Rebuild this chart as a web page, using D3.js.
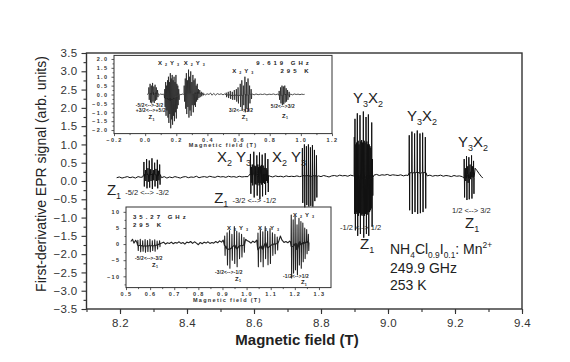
<!DOCTYPE html>
<html>
<head>
<meta charset="utf-8">
<script src="https://cdn.jsdelivr.net/npm/d3@7"></script>
<style>
    body { margin: 0; background: #fff; }
    svg { font-family: Arial, "Liberation Sans", sans-serif; }
</style>
</head>
<body>
<svg id="chart" width="570" height="362"></svg>
<script>
// tick labels
var mainXTicks = [8.2, 8.4, 8.6, 8.8, 9.0, 9.2, 9.4];
var mainYTicks = [-3.5, -3.0, -2.5, -2.0, -1.5, -1.0, -0.5, 0.0, 0.5, 1.0, 1.5, 2.0, 2.5, 3.0, 3.5];
var topXTicks = [-0.2, 0.0, 0.2, 0.4, 0.6, 0.8, 1.0, 1.2];
var topYTicks = [-2.0, -1.5, -1.0, -0.5, 0.0, 0.5, 1.0, 1.5, 2.0];
var lowXTicks = [0.5, 0.6, 0.7, 0.8, 0.9, 1.0, 1.1, 1.2, 1.3];
var lowYTicks = [-10, -5, 0, 5, 10];

// 249.9 GHz spectrum: baseline [field, signal] and hyperfine lines [field, up, down]
var mainBaseline = [
    [8.190,0.09],[8.198,0.11],[8.206,0.08],[8.214,0.10],[8.222,0.12],[8.230,0.09],[8.238,0.11],[8.246,0.08],[8.254,0.12],[8.262,0.10],[8.268,0.11],
    [8.324,0.09],[8.332,0.12],[8.340,0.08],[8.348,0.11],[8.356,0.09],[8.364,0.12],[8.372,0.10],[8.380,0.08],[8.388,0.11],[8.396,0.12],[8.404,0.09],
    [8.412,0.11],[8.420,0.10],[8.428,0.13],[8.436,0.09],[8.444,0.11],[8.452,0.12],[8.460,0.10],[8.468,0.13],[8.476,0.11],[8.484,0.10],[8.492,0.13],
    [8.500,0.11],[8.508,0.12],[8.516,0.10],[8.524,0.13],[8.532,0.11],[8.540,0.12],[8.548,0.10],[8.556,0.13],[8.564,0.11],[8.572,0.12],[8.582,0.12],
    [8.648,0.13],[8.656,0.11],[8.664,0.14],[8.672,0.12],[8.680,0.13],[8.688,0.11],[8.696,0.14],[8.704,0.12],[8.712,0.13],[8.720,0.12],[8.728,0.14],
    [8.736,0.12],[8.742,0.13],
    [8.792,0.14],[8.800,0.12],[8.808,0.15],[8.816,0.13],[8.824,0.11],[8.832,0.14],[8.840,0.15],[8.848,0.13],[8.856,0.16],[8.864,0.14],[8.872,0.15],
    [8.880,0.13],[8.888,0.16],[8.897,0.14],
    [8.958,0.16],[8.966,0.18],[8.974,0.15],[8.982,0.17],[8.990,0.16],[8.998,0.18],[9.006,0.15],[9.014,0.17],[9.022,0.16],[9.030,0.15],[9.038,0.17],
    [9.046,0.14],[9.054,0.16],[9.060,0.15],
    [9.117,0.14],[9.125,0.16],[9.133,0.13],[9.141,0.15],[9.149,0.14],[9.157,0.16],[9.165,0.13],[9.173,0.15],[9.181,0.14],[9.189,0.12],[9.197,0.15],
    [9.205,0.13],[9.213,0.14],[9.222,0.12],
    [9.260,0.35],[9.266,0.28],[9.272,0.20],[9.278,0.13],[9.283,0.08]
];
var mainLines = [
    [8.272,0.52,-0.15],[8.2765,0.30,0.00],[8.280,0.60,-0.20],[8.284,0.35,-0.02],[8.288,0.56,-0.18],[8.292,0.32,0.00],[8.296,0.62,-0.22],
    [8.300,0.30,0.02],[8.304,0.50,-0.15],[8.308,0.33,0.00],[8.312,0.58,-0.20],[8.3155,0.28,0.02],[8.319,0.45,-0.10],
    [8.590,0.74,-0.35],[8.593,0.38,-0.05],[8.5955,0.45,-0.12],[8.600,0.80,-0.45],[8.603,0.42,-0.08],[8.6055,0.40,-0.10],[8.609,0.70,-0.40],
    [8.612,0.45,-0.05],[8.6145,0.38,-0.12],[8.617,0.78,-0.50],[8.620,0.40,-0.06],[8.6225,0.44,-0.10],[8.625,0.72,-0.42],[8.628,0.42,-0.05],
    [8.631,0.36,-0.08],[8.634,0.76,-0.38],[8.637,0.35,0.00],[8.6395,0.30,-0.05],[8.642,0.60,-0.30],
    [8.745,0.90,-0.60],[8.751,1.00,-0.72],[8.757,0.95,-0.66],[8.763,1.00,-0.70],[8.769,0.92,-0.68],[8.775,0.98,-0.70],[8.781,0.85,-0.55],[8.787,0.70,-0.45],
    [8.900,1.20,-0.90],[8.902,1.70,-1.35],[8.9045,1.00,-0.85],[8.9065,1.05,-0.90],[8.909,1.85,-1.50],[8.9115,1.10,-0.95],[8.914,1.00,-0.88],
    [8.917,1.80,-1.45],[8.9195,1.08,-0.92],[8.922,1.12,-0.95],[8.9245,1.05,-0.90],[8.927,1.90,-1.55],[8.9295,1.10,-0.95],[8.932,1.05,-0.90],
    [8.935,1.75,-1.45],[8.9375,1.08,-0.92],[8.9395,1.00,-0.85],[8.942,1.82,-1.50],[8.9445,1.00,-0.85],[8.947,0.95,-0.80],[8.9495,0.90,-0.75],
    [8.952,1.60,-1.25],[8.954,0.60,-0.40],
    [9.064,1.25,-0.80],[9.072,1.35,-0.90],[9.080,1.30,-0.85],[9.088,1.38,-0.90],[9.096,1.30,-0.88],[9.104,1.32,-0.85],[9.112,1.20,-0.75],
    [9.228,0.60,-0.45],[9.2315,0.35,0.00],[9.235,0.68,-0.52],[9.2385,0.40,-0.05],[9.242,0.65,-0.50],[9.2455,0.45,0.05],[9.250,0.70,-0.48],
    [9.253,0.40,0.10],[9.256,0.55,-0.35]
];

// 9.619 GHz inset
var topBaseline = [
    [0.012,0.00],[0.018,0.03],[0.085,0.02],[0.092,-0.02],[0.100,0.03],[0.108,0.00],[0.116,0.02],[0.122,-0.01],
    [0.222,0.02],[0.230,-0.02],[0.238,0.03],[0.246,0.00],
    [0.378,0.03],[0.388,-0.02],[0.398,0.04],[0.410,0.00],[0.420,0.08],[0.430,-0.04],[0.440,0.06],[0.452,-0.03],[0.464,0.05],[0.476,0.00],
    [0.488,0.04],[0.500,-0.02],[0.510,0.03],[0.516,0.00],
    [0.690,0.02],[0.700,-0.02],[0.712,0.03],[0.726,-0.01],[0.740,0.02],[0.754,0.00],[0.768,0.03],[0.782,-0.02],[0.796,0.02],[0.810,0.00],
    [0.824,0.03],[0.838,-0.01],[0.850,0.02],[0.856,0.00],
    [0.936,0.02],[0.946,-0.02],[0.958,0.03],[0.970,0.00],[0.982,0.02],[0.994,-0.01],[1.006,0.02],[1.016,0.00],[1.024,0.01]
];
var topLines = [
    [0.025,0.40,-0.30],[0.033,0.60,-0.45],[0.041,0.50,-0.50],[0.049,0.65,-0.40],[0.057,0.45,-0.48],[0.065,0.55,-0.35],[0.073,0.40,-0.30],[0.081,0.25,-0.15],
    [0.127,0.30,-0.70],[0.133,0.70,-1.20],[0.139,0.50,-0.90],[0.145,0.80,-1.30],[0.151,1.00,-1.60],[0.157,0.70,-1.10],[0.163,1.20,-1.90],
    [0.169,0.90,-1.40],[0.175,1.10,-1.70],[0.181,0.80,-1.20],[0.187,1.00,-1.50],[0.193,0.70,-1.00],[0.199,1.10,-1.35],[0.205,0.60,-0.80],
    [0.211,0.50,-0.60],[0.217,0.30,-0.30],
    [0.252,0.50,-0.40],[0.259,0.90,-0.80],[0.266,1.20,-1.10],[0.273,0.80,-0.70],[0.280,1.40,-1.30],[0.287,1.00,-0.90],[0.294,1.30,-1.20],
    [0.301,0.70,-0.60],[0.308,1.10,-1.00],[0.315,0.80,-0.60],[0.322,0.90,-0.70],[0.329,0.50,-0.40],[0.336,0.60,-0.30],[0.344,0.30,-0.20],
    [0.352,0.25,-0.15],[0.362,0.15,-0.10],[0.372,0.10,-0.05],
    [0.522,0.10,-0.15],[0.535,0.15,-0.20],[0.548,0.20,-0.25],[0.561,0.15,-0.30],[0.574,0.25,-0.30],[0.587,0.30,-0.40],[0.598,0.40,-0.50],
    [0.612,0.60,-0.70],[0.622,0.80,-0.90],[0.632,0.50,-0.60],[0.642,1.00,-1.00],[0.652,0.70,-0.80],[0.662,0.90,-0.95],[0.672,0.50,-0.50],
    [0.682,0.30,-0.25],
    [0.862,0.20,-0.30],[0.871,0.40,-0.50],[0.880,0.50,-0.60],[0.889,0.45,-0.55],[0.898,0.50,-0.45],[0.907,0.35,-0.40],[0.916,0.25,-0.30],
    [0.926,0.15,-0.15]
];

// 35.27 GHz inset
var lowBaseline = [
    [0.520,0.8],[0.527,1.5],[0.533,0.3],[0.540,1.2],[0.545,0.5],
    [0.648,0.3],[0.656,0.6],[0.664,0.0],[0.672,0.4],[0.680,0.2],[0.688,0.6],[0.696,0.1],[0.704,0.5],[0.712,0.3],[0.720,0.7],[0.728,0.2],
    [0.736,0.5],[0.744,0.0],[0.752,0.6],[0.760,0.4],[0.768,0.8],[0.776,0.2],[0.784,0.7],[0.792,0.3],[0.800,-0.2],[0.808,0.5],[0.816,0.1],
    [0.824,0.6],[0.832,0.3],[0.840,0.7],[0.848,0.2],[0.856,0.5],[0.864,0.3],[0.872,0.8],[0.880,0.4],[0.888,1.0],[0.896,0.6],[0.903,1.2],
    [0.996,1.5],[1.003,1.0],[1.010,0.8],[1.018,0.3],[1.026,0.9],[1.034,0.5],[1.042,1.2],
    [1.134,1.0],[1.140,2.5],[1.147,1.2],[1.155,0.5],[1.163,0.8],[1.171,0.4],[1.178,0.9],[1.182,0.6]
];
var lowLines = [
    [0.550,1.2,-2.0],[0.560,1.5,-2.4],[0.570,1.0,-2.2],[0.580,1.4,-2.5],[0.590,1.1,-2.3],[0.600,1.5,-2.4],[0.610,1.0,-2.0],[0.620,1.3,-2.2],
    [0.630,0.9,-1.5],[0.640,1.0,-0.8],
    [0.910,2.5,-3.5],[0.920,3.5,-6.5],[0.930,4.2,-7.5],[0.940,3.0,-5.0],[0.950,5.4,-6.0],[0.960,4.0,-7.0],[0.970,3.5,-4.5],[0.980,3.0,-4.0],
    [0.990,2.0,-2.5],
    [1.048,3.4,-7.0],[1.058,4.4,-5.5],[1.068,3.8,-7.0],[1.078,5.4,-4.5],[1.088,4.0,-6.4],[1.098,4.8,-6.0],[1.108,3.5,-3.5],[1.118,3.0,-3.0],
    [1.128,2.2,-1.8],
    [1.186,9.0,-10.5],[1.194,7.5,-9.0],[1.202,8.5,-8.0],[1.210,6.0,-9.5],[1.218,8.0,-6.5],[1.226,7.0,-7.5],[1.234,6.5,-5.5],[1.242,5.0,-4.5],
    [1.250,4.5,-3.0],[1.257,3.0,-2.0]
];

var svg = d3.select('#chart');

var x = d3.scaleLinear().domain([8.1, 9.4]).range([86.5, 522]);
var y = d3.scaleLinear().domain([-3.5, 3.5]).range([309, 53]);
var tx = d3.scaleLinear().domain([-0.2, 1.2]).range([114, 332]);
var ty = d3.scaleLinear().domain([-2.2, 2.2]).range([133.6, 55.4]);
var lx = d3.scaleLinear().domain([0.5, 1.35]).range([126, 331]);
var ly = d3.scaleLinear().domain([-13.5, 11.5]).range([287.6, 207]);

// every line: from its centre up to the peak, down to the trough, back to centre
function tracePoints(base, lines) {
    var pts = base.map(function(d) { return {b: d[0], s: d[1], dx: 0}; });
    lines.forEach(function(d) {
        var mid = (d[1] + d[2]) / 2;
        pts.push({b: d[0], s: mid, dx: -0.4});
        pts.push({b: d[0], s: d[1], dx: -0.2});
        pts.push({b: d[0], s: d[2], dx: 0.2});
        pts.push({b: d[0], s: mid, dx: 0.4});
    });
    pts.sort(function(a, b) { return (a.b - b.b) || (a.dx - b.dx); });
    return pts;
}

function drawTrace(xs, ys, pts, color, width) {
    var line = d3.line()
        .x(function(p) { return xs(p.b) + p.dx; })
        .y(function(p) { return ys(p.s); });
    svg.append('path')
        .datum(pts)
        .attr('d', line)
        .attr('fill', 'none')
        .attr('stroke', color)
        .attr('stroke-width', width)
        .attr('stroke-linejoin', 'round');
}

function axes(xs, ys, o) {
    var xr = xs.range(), yr = ys.range();
    var g = svg.append('g');
    g.append('rect')
        .attr('x', xr[0]).attr('y', yr[1])
        .attr('width', xr[1] - xr[0]).attr('height', yr[0] - yr[1])
        .attr('fill', 'none').attr('stroke', o.color).attr('stroke-width', o.stroke);

    g.append('g').attr('transform', 'translate(0,' + yr[0] + ')')
        .call(d3.axisBottom(xs).tickValues(o.xMinor).tickSize(o.minor).tickFormat(''));
    g.append('g').attr('transform', 'translate(0,' + yr[0] + ')')
        .call(d3.axisBottom(xs).tickValues(o.xTicks).tickSize(o.major).tickPadding(o.xPad).tickFormat(o.xFmt));
    g.append('g').attr('transform', 'translate(' + xr[0] + ',0)')
        .call(d3.axisLeft(ys).tickValues(o.yMinor).tickSize(o.minor).tickFormat(''));
    g.append('g').attr('transform', 'translate(' + xr[0] + ',0)')
        .call(d3.axisLeft(ys).tickValues(o.yTicks).tickSize(o.major).tickPadding(o.yPad).tickFormat(o.yFmt));

    g.selectAll('.domain').remove();
    g.selectAll('.tick line').attr('stroke', o.color).attr('stroke-width', o.stroke * 0.8);
    g.selectAll('g').attr('font-family', null).attr('font-size', null);
    g.selectAll('.tick text')
        .attr('fill', o.text)
        .attr('font-size', o.font)
        .attr('font-weight', o.weight)
        .style('letter-spacing', o.spacing + 'px');
    return g;
}

// text with sub/superscripts: parts are [text, kind, dx]
function richText(px, py, parts, size, o) {
    o = o || {};
    var t = svg.append('text')
        .attr('x', px).attr('y', py)
        .attr('font-size', size)
        .attr('fill', o.fill || '#222')
        .attr('font-weight', o.weight || 'normal')
        .style('letter-spacing', (o.spacing || 0) + 'px');
    var prev = 0;
    parts.forEach(function(p) {
        var shift = p[1] === 'sub' ? size * 0.25 : (p[1] === 'sup' ? -size * 0.42 : 0);
        var fs = (p[1] === 'sub' || p[1] === 'sup') ? size * 0.6 : (p[1] === 'small' ? size * 0.5 : size);
        t.append('tspan')
            .attr('dy', shift - prev)
            .attr('dx', p[2] || 0)
            .attr('font-size', fs)
            .text(p[0]);
        prev = shift;
    });
    return t;
}

// main frame
axes(x, y, {
    xTicks: mainXTicks, xMinor: d3.range(8.1, 9.45, 0.1),
    yTicks: mainYTicks, yMinor: d3.range(-3.25, 3.5, 0.5),
    xFmt: d3.format('.1f'), yFmt: d3.format('.1f'),
    major: 5, minor: 3, xPad: 5, yPad: 4,
    color: '#333', stroke: 1.4, text: '#333', font: 11.5, weight: 'normal', spacing: 0.3
});

svg.append('text')
    .attr('transform', 'translate(46,174) rotate(-90)')
    .attr('text-anchor', 'middle')
    .attr('font-size', 14)
    .attr('fill', '#222')
    .text('First-derivative EPR signal (arb. units)');

svg.append('text')
    .attr('x', 297).attr('y', 345)
    .attr('text-anchor', 'middle')
    .attr('font-size', 15)
    .attr('font-weight', 'bold')
    .attr('fill', '#222')
    .text('Magnetic field (T)');

drawTrace(x, y, tracePoints(mainBaseline, mainLines), '#111', 1.0);

// main annotations
richText(x(8.161), y(-0.38), [['Z'], ['1', 'sub'], [' -5/2 <--> -3/2', 'small', 2]], 15);
richText(x(8.481), y(-0.60), [['Z'], ['1', 'sub'], [' -3/2 <--> -1/2', 'small', 2]], 15);
richText(x(8.4895), y(0.52), [['X'], ['2', 'sub'], [' Y'], ['3', 'sub']], 15);
richText(x(8.6537), y(0.52), [['X'], ['2', 'sub'], [' Y'], ['3', 'sub']], 15);
richText(x(8.8955), y(2.13), [['Y'], ['3', 'sub'], ['X'], ['2', 'sub']], 15);
richText(x(9.0567), y(1.64), [['Y'], ['3', 'sub'], ['X'], ['2', 'sub']], 15);
richText(x(9.2089), y(0.93), [['Y'], ['3', 'sub'], ['X'], ['2', 'sub']], 15);
richText(x(8.8567), y(-1.33), [['-1/2 <--> 1/2']], 7.5);
richText(x(8.9164), y(-1.86), [['Z'], ['1', 'sub']], 15);
richText(x(9.191), y(-0.875), [['1/2 <--> 3/2']], 7.5);
richText(x(9.2298), y(-1.285), [['Z'], ['1', 'sub']], 15);
richText(x(9.0059), y(-2.0), [['NH'], ['4', 'sub'], ['Cl'], ['0.9', 'sub'], ['I'], ['0.1', 'sub'], [': Mn'], ['2+', 'sup']], 14);
richText(x(9.0059), y(-2.52), [['249.9 GHz']], 14);
richText(x(9.0059), y(-2.97), [['253 K']], 14);

// inset styles
var insetAxis = {
    major: 2.5, minor: 1.5, xPad: 2, yPad: 3,
    color: '#333', stroke: 1, text: '#333', font: 5.5, weight: 'bold', spacing: 1.4
};
var insetText = {fill: '#222', weight: 'bold', spacing: 3};
var insetSmall = {fill: '#222', weight: 'bold', spacing: 0.2};

// 9.619 GHz inset
axes(tx, ty, Object.assign({}, insetAxis, {
    xTicks: topXTicks, xMinor: d3.range(-0.1, 1.2, 0.2),
    yTicks: topYTicks, yMinor: d3.range(-1.75, 2.0, 0.5),
    xFmt: d3.format('.1f'), yFmt: d3.format('.1f')
}));
drawTrace(tx, ty, tracePoints(topBaseline, topLines), '#222', 0.8);
svg.append('text').attr('x', tx(0.5)).attr('y', 147).attr('text-anchor', 'middle')
    .attr('font-size', 5.5).attr('font-weight', 'bold').attr('fill', '#333')
    .style('letter-spacing', '1.3px').text('Magnetic field (T)');
richText(tx(0.0825), ty(1.66), [['X'], ['2', 'sub'], ['Y'], ['3', 'sub']], 6, insetText);
richText(tx(0.248), ty(1.66), [['X'], ['2', 'sub'], ['Y'], ['3', 'sub']], 6, insetText);
richText(tx(0.713), ty(1.66), [['9.619 GHz']], 6, insetText);
richText(tx(0.559), ty(1.21), [['X'], ['2', 'sub'], ['Y'], ['3', 'sub']], 6, insetText);
richText(tx(0.869), ty(1.21), [['295 K']], 6, insetText);
richText(tx(-0.061), ty(-0.70), [['-5/2<-->-3/2']], 4.8, insetSmall);
richText(tx(-0.061), ty(-0.98), [['+3/2<-->+5/2']], 4.8, insetSmall);
richText(tx(0.022), ty(-1.38), [['Z'], ['1', 'sub']], 6, insetSmall);
richText(tx(0.539), ty(-0.98), [['3/2<-->1/2']], 4.8, insetSmall);
richText(tx(0.621), ty(-1.38), [['Z'], ['1', 'sub']], 6, insetSmall);
richText(tx(0.807), ty(-0.76), [['5/2<-->3/2']], 4.8, insetSmall);
richText(tx(0.879), ty(-1.32), [['Z'], ['1', 'sub']], 6, insetSmall);

// 35.27 GHz inset
axes(lx, ly, Object.assign({}, insetAxis, {
    xTicks: lowXTicks, xMinor: d3.range(0.55, 1.35, 0.1),
    yTicks: lowYTicks, yMinor: d3.range(-12.5, 11.5, 5),
    xFmt: d3.format('.1f'), yFmt: d3.format('d')
}));
drawTrace(lx, ly, tracePoints(lowBaseline, lowLines), '#222', 1.1);
svg.append('text').attr('x', lx(0.92)).attr('y', 302).attr('text-anchor', 'middle')
    .attr('font-size', 5.5).attr('font-weight', 'bold').attr('fill', '#333')
    .style('letter-spacing', '1.3px').text('Magnetic field (T)');
richText(lx(0.529), ly(7.8), [['35.27 GHz']], 6, insetText);
richText(lx(0.529), ly(5.3), [['295 K']], 6, insetText);
richText(lx(0.919), ly(4.4), [['X'], ['2', 'sub'], ['Y'], ['3', 'sub']], 6, insetText);
richText(lx(1.047), ly(4.4), [['X'], ['2', 'sub'], ['Y'], ['3', 'sub']], 6, insetText);
richText(lx(1.192), ly(8.4), [['X'], ['2', 'sub'], ['Y'], ['3', 'sub']], 6, insetText);
richText(lx(0.537), ly(-4.9), [['-5/2<-->-3/2']], 4.8, insetSmall);
richText(lx(0.608), ly(-7.1), [['Z'], ['1', 'sub']], 6, insetSmall);
richText(lx(0.869), ly(-9.3), [['-3/2<-->-1/2']], 4.8, insetSmall);
richText(lx(0.952), ly(-11.4), [['Z'], ['1', 'sub']], 6, insetSmall);
richText(lx(1.151), ly(-10.5), [['-1/2<-->1/2']], 4.8, insetSmall);
richText(lx(1.2255), ly(-12.4), [['Z'], ['1', 'sub']], 6, insetSmall);
</script>
</body>
</html>
